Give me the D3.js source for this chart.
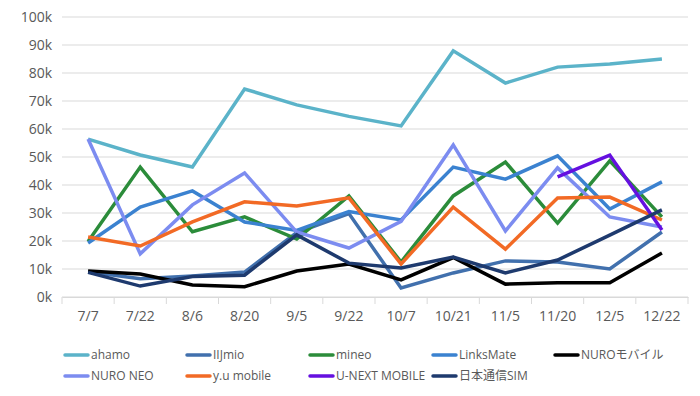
<!DOCTYPE html>
<html>
<head>
<meta charset="utf-8">
<script src="https://cdn.jsdelivr.net/npm/d3@7"></script>
<style>
  body { margin: 0; background: #fff; }
  text { font-family: "Open Sans", "Noto Sans", "Noto Sans CJK JP", sans-serif; }
</style>
</head>
<body>
<div id="chart"></div>
<script>
const categories = ['7/7', '7/22', '8/6', '8/20', '9/5', '9/22', '10/7', '10/21', '11/5', '11/20', '12/5', '12/22'];
const yTicks = [0, 10000, 20000, 30000, 40000, 50000, 60000, 70000, 80000, 90000, 100000];

// values in units (null = no data)
const ahamo = [56400, 50700, 46400, 74300, 68600, 64500, 61100, 87900, 76400, 82100, 83200, 85000];
const iijmio = [9000, 6500, 7500, 8900, 23000, 29800, 3200, 8600, 12900, 12500, 10000, 23200];
const mineo = [19800, 46400, 23300, 28600, 20700, 36100, 12500, 36100, 48200, 26400, 48600, 28600];
const linksMate = [19300, 32100, 37900, 26800, 23800, 30500, 27500, 46400, 42100, 50400, 31400, 41100];
const nuroMobile = [9300, 8200, 4300, 3700, 9300, 11800, 6100, 14100, 4600, 5100, 5100, 15700];
const nuroNeo = [56400, 15400, 32900, 44300, 23200, 17500, 27000, 54300, 23600, 46100, 28600, 25000];
const yuMobile = [21400, 18200, 26800, 34000, 32500, 35400, 11800, 32100, 17100, 35400, 35700, 27500];
const uNext = [null, null, null, null, null, null, null, null, null, 42900, 50700, 23900];
const nihonTsushin = [8800, 3900, 7300, 7800, 22200, 12100, 10400, 14300, 8600, 13200, 22100, 31100];

const series = [
  { name: 'ahamo', values: ahamo, color: '#5bb3c9' },
  { name: 'IIJmio', values: iijmio, color: '#4170ad' },
  { name: 'mineo', values: mineo, color: '#2b8c3a' },
  { name: 'LinksMate', values: linksMate, color: '#3b82d0' },
  { name: 'NUROモバイル', values: nuroMobile, color: '#000000' },
  { name: 'NURO NEO', values: nuroNeo, color: '#7c8cf0' },
  { name: 'y.u mobile', values: yuMobile, color: '#f26a25' },
  { name: 'U-NEXT MOBILE', values: uNext, color: '#6510e0' },
  { name: '日本通信SIM', values: nihonTsushin, color: '#1e3a6e' }
];

const width = 700, height = 396;
const margin = { top: 17, right: 12, bottom: 99, left: 62 };

const svg = d3.select('#chart').append('svg')
  .attr('width', width)
  .attr('height', height);

const x = d3.scaleBand()
  .domain(categories)
  .range([margin.left, width - margin.right]);

const y = d3.scaleLinear()
  .domain([0, 100000])
  .range([height - margin.bottom, margin.top]);

// gridlines
svg.append('g')
  .selectAll('line')
  .data(yTicks)
  .join('line')
  .attr('x1', margin.left)
  .attr('x2', width - margin.right)
  .attr('y1', d => y(d))
  .attr('y2', d => y(d))
  .attr('stroke', '#d9d9d9')
  .attr('stroke-width', 1);

// y labels
svg.append('g')
  .selectAll('text')
  .data(yTicks)
  .join('text')
  .attr('x', 52)
  .attr('y', d => y(d))
  .attr('dy', '0.35em')
  .attr('text-anchor', 'end')
  .attr('font-size', 14)
  .attr('fill', '#595959')
  .text(d => (d / 1000) + 'k');

// x axis
const xAxis = svg.append('g')
  .attr('transform', `translate(0,${y(0)})`)
  .call(d3.axisBottom(x).tickSize(0).tickPadding(14));
xAxis.select('.domain').attr('stroke', '#d9d9d9');
xAxis.selectAll('text')
  .attr('font-size', 14)
  .attr('fill', '#595959')
  .style('font-family', '"Open Sans", "Noto Sans", sans-serif');

// band boundary ticks
const bounds = categories.map(c => x(c)).concat([x(categories[categories.length - 1]) + x.bandwidth()]);
svg.append('g')
  .selectAll('line')
  .data(bounds)
  .join('line')
  .attr('x1', d => d)
  .attr('x2', d => d)
  .attr('y1', y(0))
  .attr('y2', y(0) + 7)
  .attr('stroke', '#d9d9d9');

const line = d3.line()
  .defined(d => d != null)
  .x((d, i) => x(categories[i]) + x.bandwidth() / 2)
  .y(d => y(d));

svg.append('g')
  .selectAll('path')
  .data(series)
  .join('path')
  .attr('fill', 'none')
  .attr('stroke', d => d.color)
  .attr('stroke-width', 3.5)
  .attr('stroke-linejoin', 'miter')
  .attr('d', d => line(d.values));

// legend
const legend = svg.append('g');
const cols = [65, 187, 310, 433, 555];
const rows = [355, 376];
series.forEach((s, i) => {
  const lx = cols[i % 5];
  const ly = rows[Math.floor(i / 5)];
  legend.append('line')
    .attr('x1', lx).attr('x2', lx + 23)
    .attr('y1', ly).attr('y2', ly)
    .attr('stroke', s.color)
    .attr('stroke-width', 3.5)
    .attr('stroke-linecap', 'round');
  legend.append('text')
    .attr('x', lx + 26)
    .attr('y', ly)
    .attr('dy', '0.35em')
    .attr('font-size', 12)
    .attr('fill', '#595959')
    .text(s.name);
});
</script>
</body>
</html>
